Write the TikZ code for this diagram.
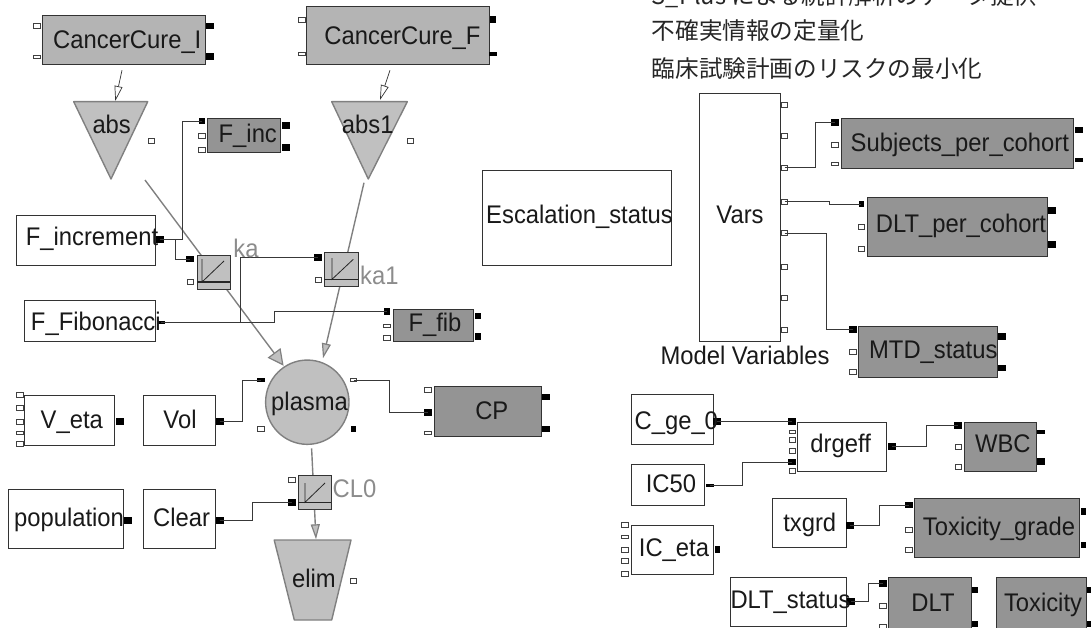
\documentclass[tikz,border=0pt]{standalone}
\usepackage{graphicx}
\usepackage{fontspec}
\setmainfont{Liberation Sans}
\newfontfamily\cjkf{Noto Sans CJK JP}
\usetikzlibrary{arrows.meta,shapes.geometric,calc}
\definecolor{cmpL}{HTML}{C0C0C0}
\definecolor{cmpM}{HTML}{B4B4B4}
\definecolor{cmpD}{HTML}{949494}
\definecolor{edgeG}{HTML}{808080}
\definecolor{flowG}{HTML}{808080}
\definecolor{wireC}{HTML}{383838}
\definecolor{lblG}{HTML}{8C8C8C}
\tikzset{
  plainbox/.style={draw=black!80,line width=0.8pt,fill=white,inner sep=0pt},
  midbox/.style={plainbox,fill=cmpM},
  darkbox/.style={plainbox,fill=cmpD},
  lightbox/.style={plainbox,fill=cmpL},
  txt/.style={anchor=base,inner sep=0pt,font=\fontsize{23.8}{24}\selectfont,text=black!90},
  graylbl/.style={txt,text=lblG},
  cjktxt/.style={anchor=base west,inner sep=0pt,font=\fontsize{23.6}{24}\cjkf\selectfont,text=black!85},
  wp/.style={draw=black!75,fill=white,line width=0.7pt,minimum width=6.5pt,minimum height=5pt,inner sep=0pt},
  sp/.style={draw=black!75,fill=white,line width=0.6pt,minimum width=6.5pt,minimum height=3pt,inner sep=0pt},
  bp/.style={draw=black,fill=black,line width=0pt,minimum width=7pt,minimum height=5.5pt,inner sep=0pt},
  bq/.style={bp,minimum width=4.5pt},
  bsp/.style={draw=black,fill=black,line width=0pt,minimum width=7pt,minimum height=2.5pt,inner sep=0pt},
  wire/.style={draw=wireC,line width=0.9pt},
  flow/.style={draw=flowG,line width=1.4pt},
  thinflow/.style={draw=black!80,line width=0.7pt,-{Triangle[length=15pt,width=8pt,fill=white]}},
  bigflow/.style={flow,-{Triangle[length=16pt,width=16pt,fill=cmpL,color=flowG,line width=1.2pt]}},
  narrowflow/.style={flow,-{Triangle[length=15pt,width=9pt,fill=cmpL,color=flowG,line width=1.2pt]}},
  shapeline/.style={draw=edgeG,line width=1.4pt,fill=cmpL,line join=round},
  graph/.style={draw=black!85,line width=0.8pt}
}
\newcommand\bxx[6]{%
  \pgfmathsetmacro\bw{#5-#3}\pgfmathsetmacro\bh{#6-#4}%
  \node[#2,anchor=north west,minimum width=\bw pt,minimum height=\bh pt] (#1) at (#3,#4) {};}
\newcommand\prt[4]{\node[#2] (#1) at (#3,#4) {};}
\newcommand\lbl[5][txt]{\node[#1] (#2) at (#3,#4) {\scalebox{1}[1.07]{#5}};}
\newcommand\cjl[4]{\node[cjktxt] (#1) at (#2,#3) {#4};}
\newcommand\wrr[3]{\coordinate (m#1#2) at (#3,0);\draw[wire] (#1.center) -| (m#1#2 |- #2.center) -- (#2.center);}
\begin{document}
\begin{tikzpicture}[x=1pt,y=-1pt]
\useasboundingbox (0,0) rectangle (1091,628);
\clip (0,0) rectangle (1091,628);
% top text
\cjl{t1}{651.7}{5}{S\_Plus による統計解析のデータ提供}
\cjl{t2}{651.7}{40}{不確実情報の定量化}
\cjl{t3}{651.7}{78}{臨床試験計画のリスクの最小化}
% flow coordinates
\coordinate (fa) at (122,70.3);\coordinate (fb) at (115.3,101);
\coordinate (fc) at (390,70.3);\coordinate (fd) at (380,100);
\coordinate (fe) at (145,180);\coordinate (ff) at (283.6,365.7);
\coordinate (fg) at (364,182.7);\coordinate (fh) at (323,358.3);
\coordinate (fi) at (311.6,448.3);\coordinate (fj) at (316,539.3);
% left
\bxx{ccI}{midbox}{42.3}{14.7}{204.7}{64}
\bxx{ccF}{midbox}{306}{5.7}{488.7}{64}
\draw[shapeline] (73.7,101.7) -- (147.7,101.7) -- (111,179) -- cycle;
\draw[shapeline] (331.7,101.7) -- (407.3,101.7) -- (368.3,179) -- cycle;
\bxx{Finc}{darkbox}{206.7}{118.3}{280}{152.3}
\bxx{Fincr}{plainbox}{16.3}{215.3}{154.7}{264.7}
\bxx{Ffib}{plainbox}{24.4}{300}{155.4}{341}
\bxx{Ffb}{darkbox}{393}{309}{473}{341}
\bxx{Veta}{plainbox}{24.4}{394.7}{114}{444.7}
\bxx{Vol}{plainbox}{142.5}{394.7}{214.6}{444.7}
\bxx{CP}{darkbox}{433.6}{385.7}{540.6}{435.7}
\bxx{popn}{plainbox}{7.5}{489.3}{123}{547.7}
\bxx{Clear}{plainbox}{142.5}{489.3}{214.6}{547.7}
\draw[shapeline] (274.2,540) -- (351,540) -- (331.7,620) -- (294.3,620) -- cycle;
\node[ellipse,shapeline,inner sep=0pt,minimum width=83.4pt,minimum height=84.3pt] (plasma) at (307.3,402.2) {};
% flows
\draw[thinflow] (fa) -- (fb);
\draw[thinflow] (fc) -- (fd);
\draw[bigflow] (fe) -- (ff);
\draw[narrowflow] (fg) -- (fh);
\draw[narrowflow] (fi) -- (fj);
% valves
\bxx{ka}{lightbox}{197.3}{255.3}{230.3}{289.3}
\bxx{kaa}{lightbox}{324.3}{252.3}{357.7}{286.3}
\bxx{cl}{lightbox}{298}{475}{331.3}{509.3}
\draw[graph,line width=1.1pt] (197.3,282) -- (230.3,282);
\draw[graph] (202,259) -- (202,282) -- (224,261);
\draw[graph] (324.3,279.3) -- (357.7,279.3);
\draw[graph] (332,258) -- (332,279.3) -- (353.3,259.3);
\draw[graph] (298,502.3) -- (331.3,502.3);
\draw[graph] (305,483) -- (305,502.3) -- (325,483);
% right boxes
\bxx{esc}{plainbox}{482}{169.7}{671}{264.7}
\bxx{vars}{plainbox}{699.3}{93.3}{779.7}{340.7}
\bxx{subj}{darkbox}{840.6}{118.3}{1073}{168.3}
\bxx{dltc}{darkbox}{866.5}{197.3}{1047.2}{255.7}
\bxx{mtd}{darkbox}{858}{325.7}{997}{376.7}
\bxx{cge}{plainbox}{630.7}{394.3}{712.7}{444.3}
\bxx{ic}{plainbox}{630.7}{464.3}{704.3}{504.7}
\bxx{ice}{plainbox}{630.7}{525}{712.7}{574.3}
\bxx{drg}{plainbox}{797.3}{422.3}{886.3}{471.3}
\bxx{wbc}{darkbox}{964.3}{422.3}{1035.7}{471.3}
\bxx{tx}{plainbox}{771.7}{498.3}{845.7}{547.3}
\bxx{txg}{darkbox}{914.3}{498.3}{1079.3}{556.7}
\bxx{dlts}{plainbox}{730}{577}{845.7}{626.3}
\bxx{dlt}{darkbox}{888}{576.7}{971}{640}
\bxx{txc}{darkbox}{996.3}{576.7}{1085.7}{640}
% ports
\prt{pa}{wp}{37}{26}\prt{pb}{sp}{37}{56.7}\prt{pc}{bp}{210}{26}\prt{pd}{bp}{210}{56.7}
\prt{pe}{wp}{302}{19.7}\prt{pf}{sp}{302}{54}\prt{pg}{bq}{493}{19.7}\prt{ph}{bsp}{493}{54}
\prt{pi}{wp}{151.3}{140.7}\prt{pj}{wp}{410.3}{140.7}
\prt{fi1}{bq}{202}{121}\prt{fi2}{wp}{202}{136}\prt{fi3}{wp}{202}{149.7}
\prt{fo1}{bp}{285.7}{125.3}\prt{fo2}{bp}{285.7}{147.7}
\prt{fr}{bp}{160.3}{239.7}
\prt{ka1}{bp}{190.3}{259}\prt{ka2}{wp}{190.3}{282}
\prt{kb1}{bp}{318.3}{257.3}\prt{kb2}{wp}{318.3}{280.3}
\prt{ffo}{bsp}{160.8}{322.3}
\prt{fb1}{bq}{387}{311.7}\prt{fb2}{sp}{387}{326}\prt{fb3}{wp}{387}{338.3}
\prt{fb4}{bq}{478}{316}\prt{fb5}{bq}{478}{336.7}
\prt{pl1}{bsp}{261}{380}\prt{pl2}{wp}{261}{429}\prt{pl3}{sp}{353.5}{380}\prt{pl4}{bq}{353.5}{429}
\prt{v1}{wp}{19.7}{395}\prt{v2}{wp}{19.7}{408.3}\prt{v3}{wp}{19.7}{421.7}\prt{v4}{sp}{19.7}{432.3}\prt{v5}{wp}{19.7}{444}
\prt{v6}{bp}{119.5}{421.7}\prt{vo}{bp}{219.7}{421.7}
\prt{cp1}{wp}{428}{390.3}\prt{cp2}{bp}{428}{412.7}\prt{cp3}{sp}{428}{432.3}\prt{cp4}{bp}{546}{397}\prt{cp5}{bp}{546}{429}
\prt{po}{bp}{128}{520.7}\prt{clo}{bp}{219.7}{520.7}
\prt{cl1}{wp}{291.8}{480}\prt{cl2}{bp}{291.8}{502.3}
\prt{el}{wp}{353.5}{581}
% var ports
\prt{w1}{wp}{784.5}{105}\prt{w2}{wp}{784.5}{136.3}\prt{w3}{wp}{784.5}{167.7}\prt{w4}{wp}{784.5}{201.7}
\prt{w5}{wp}{784.5}{233}\prt{w6}{wp}{784.5}{267}\prt{w7}{wp}{784.5}{298.3}\prt{w8}{wp}{784.5}{329.7}
\prt{s1}{bp}{835}{122.7}\prt{s2}{wp}{835}{145.3}\prt{s3}{sp}{835}{164.3}\prt{s4}{bp}{1078.7}{130}\prt{s5}{bsp}{1078.7}{160}
\prt{d1}{bq}{861.3}{204}\prt{d2}{wp}{861.3}{226.7}\prt{d3}{wp}{861.3}{249}\prt{d4}{bp}{1052.4}{210.3}\prt{d5}{bp}{1052.4}{244.3}
\prt{m1}{bp}{852.6}{329.3}\prt{m2}{wp}{852.6}{352}\prt{m3}{wp}{852.6}{372.3}\prt{m4}{bp}{1002}{336.7}\prt{m5}{bp}{1002}{368}
\prt{cg}{bp}{717.3}{421.7}
\prt{g1}{bp}{792.3}{421.7}\prt{g2}{sp}{792.3}{432}\prt{g3}{wp}{792.3}{439.7}\prt{g4}{wp}{792.3}{451}\prt{g5}{bp}{792.3}{462}\prt{g6}{wp}{792.3}{470.7}
\prt{go}{bp}{891.7}{446.7}
\prt{i0}{bsp}{709.7}{485.7}
\prt{b1}{bp}{958.3}{425.7}\prt{b2}{wp}{958.3}{446.7}\prt{b3}{wp}{958.3}{466.7}\prt{b4}{bsp}{1041}{432}\prt{b5}{bp}{1041}{461.7}
\prt{e1}{wp}{625}{525}\prt{e2}{sp}{625}{537}\prt{e3}{wp}{625}{549.7}\prt{e4}{wp}{625}{561}\prt{e5}{wp}{625}{574.3}\prt{e6}{bq}{717.3}{549.7}
\prt{x0}{bp}{850.3}{525.3}
\prt{y1}{bp}{908.7}{505}\prt{y2}{wp}{908.7}{529.7}\prt{y3}{wp}{908.7}{549.7}\prt{y4}{bq}{1083.3}{511.3}\prt{y5}{bq}{1083.3}{545}
\prt{z0}{bp}{850.7}{601.3}
\prt{z1}{bp}{883}{583.3}\prt{z2}{wp}{883}{606}\prt{z3}{wp}{883}{627}\prt{z4}{bq}{975}{590}\prt{z5}{bq}{975}{624}
\prt{u1}{bq}{1089.3}{590}\prt{u2}{bq}{1089.3}{624}
% wires
\wrr{fr}{fi1}{182}
\wrr{fr}{ka1}{175.3}
\wrr{ffo}{fb1}{274.6}
\coordinate (kj) at (240.7,0);
\draw[wire] (ffo.center) -| (kj |- ffo.center) -- (kj |- kb1.center) -- (kb1.center);
\wrr{vo}{pl1}{242.3}
\wrr{pl3}{cp2}{389.5}
\wrr{clo}{cl2}{252.7}
\wrr{w3}{s1}{815.5}
\wrr{w4}{d1}{829}
\wrr{w5}{m1}{826.3}
\draw[wire] (cg.center) -- (g1.center);
\wrr{i0}{g5}{742.7}
\wrr{go}{b1}{926.3}
\wrr{x0}{y1}{879}
\wrr{z0}{z1}{868.3}
% labels
\lbl{tccI}{127.3}{48.3}{CancerCure\_I}
\lbl{tccF}{402.5}{44.3}{CancerCure\_F}
\lbl{tabs}{111.7}{133.3}{abs}
\lbl{tabsb}{367.7}{133.3}{abs1}
\lbl{tFinc}{247.8}{142.7}{F\_inc}
\lbl{tFincr}{92}{245.7}{F\_increment}
\lbl{tFfib}{95.8}{330}{F\_Fibonacci}
\lbl{tFfb}{435}{331.7}{F\_fib}
\lbl{tpl}{309.6}{410}{plasma}
\lbl{tV}{71.8}{428.3}{V\_eta}
\lbl{tVol}{180}{428.3}{Vol}
\lbl{tCP}{491.8}{419}{CP}
\lbl{tpop}{69}{526.7}{population}
\lbl{tCl}{181.6}{526.7}{Clear}
\lbl[graylbl]{tCL}{354.5}{497.7}{CL0}
\lbl{tel}{314}{587.7}{elim}
\lbl[graylbl]{tka}{246}{257.3}{ka}
\lbl[graylbl]{tkb}{379.3}{284.3}{ka1}
\lbl{tsub}{959.8}{151.7}{Subjects\_per\_cohort}
\lbl{tdlc}{961}{232.3}{DLT\_per\_cohort}
\lbl{tmtd}{933.3}{358.3}{MTD\_status}
\lbl{tesc}{579.5}{223.3}{Escalation\_status}
\lbl{tvar}{740}{223.3}{Vars}
\lbl{tmod}{745}{364}{Model Variables}
\lbl{tcg}{676.3}{429.3}{C\_ge\_0}
\lbl{tic}{671}{492.7}{IC50}
\lbl{tice}{674}{556.7}{IC\_eta}
\lbl{tdr}{840.7}{452.7}{drgeff}
\lbl{twb}{1002.8}{452.7}{WBC}
\lbl{ttx}{809.7}{531.7}{txgrd}
\lbl{ttg}{999}{535.7}{Toxicity\_grade}
\lbl{tds}{790.5}{608}{DLT\_status}
\lbl{tdl}{933}{611.7}{DLT}
\lbl{ttc}{1043}{611.7}{Toxicity}
\end{tikzpicture}
\end{document}
